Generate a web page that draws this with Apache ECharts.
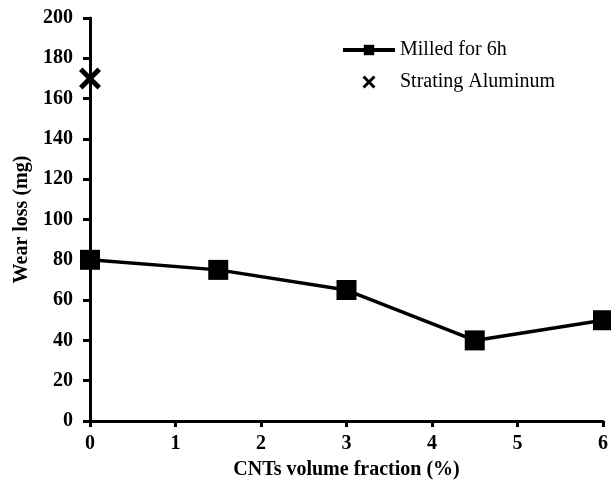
<!DOCTYPE html>
<html><head><meta charset="utf-8">
<script src="https://cdn.jsdelivr.net/npm/echarts@6/dist/echarts.min.js"></script>
<style>html,body{margin:0;padding:0;background:#fff}#c{width:611px;height:490px}</style>
</head><body><div id="c"></div>
<script>
const milledX = [0, 1.5, 3, 4.5, 6];
const milledY = [80, 75, 65, 40, 50];
const startX = [0];
const startY = [170];
const seriesNames = ['Milled for 6h', 'Strating Aluminum'];
const xTitle = 'CNTs volume fraction (%)';
const yTitle = 'Wear loss (mg)';

const crossPath = 'path://M1.6,0 L5,3.4 L8.4,0 L10,1.6 L6.6,5 L10,8.4 L8.4,10 L5,6.6 L1.6,10 L0,8.4 L3.4,5 L0,1.6 Z';
const font = '"Liberation Serif","Times New Roman",serif';

const chart = echarts.init(document.getElementById('c'), null, {renderer: 'canvas'});
chart.setOption({
  animation: false,
  backgroundColor: '#fff',
  grid: {left: 90, right: 8, top: 18, bottom: 69, containLabel: false},
  legend: {
    orient: 'vertical', left: 336, top: 35, itemWidth: 52, itemHeight: 13, itemGap: 12,
    textStyle: {fontFamily: font, fontSize: 20, color: '#000'},
    lineStyle: {width: 4},
    data: seriesNames
  },
  xAxis: {
    type: 'value', min: 0, max: 6, interval: 1,
    name: xTitle, nameLocation: 'middle', nameGap: 39,
    nameTextStyle: {fontFamily: font, fontSize: 20, fontWeight: 'bold', color: '#000'},
    axisLine: {show: true, lineStyle: {color: '#000', width: 3}},
    axisTick: {show: true, length: 6, lineStyle: {color: '#000', width: 3}},
    axisLabel: {fontFamily: font, fontSize: 20, fontWeight: 'bold', color: '#000', margin: 13},
    splitLine: {show: false}
  },
  yAxis: {
    type: 'value', min: 0, max: 200, interval: 20,
    name: yTitle, nameLocation: 'middle', nameGap: 56, nameRotate: 90,
    nameTextStyle: {fontFamily: font, fontSize: 20, fontWeight: 'bold', color: '#000'},
    axisLine: {show: true, lineStyle: {color: '#000', width: 3}},
    axisTick: {show: true, length: 7, lineStyle: {color: '#000', width: 3}},
    axisLabel: {fontFamily: font, fontSize: 20, fontWeight: 'bold', color: '#000', margin: 17},
    splitLine: {show: false}
  },
  series: [
    {
      name: seriesNames[0], type: 'line',
      data: milledX.map((x, i) => [x, milledY[i]]),
      symbol: 'rect', symbolSize: 20,
      lineStyle: {color: '#000', width: 3.5},
      itemStyle: {color: '#000', opacity: 1},
      clip: false
    },
    {
      name: seriesNames[1], type: 'scatter',
      data: startX.map((x, i) => [x, startY[i]]),
      symbol: crossPath, symbolSize: 22, symbolKeepAspect: true,
      itemStyle: {color: '#000', opacity: 1},
      clip: false
    }
  ]
});
</script></body></html>
